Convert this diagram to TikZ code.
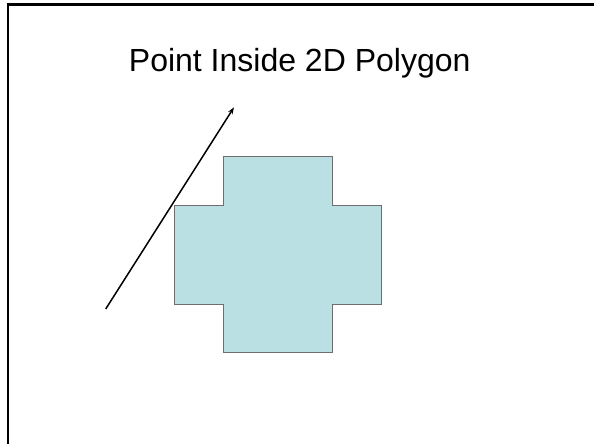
\documentclass[tikz,border=0pt]{standalone}
\usepackage{fontspec}
\setmainfont{Liberation Sans}
\usetikzlibrary{arrows.meta}
\definecolor{polyfill}{RGB}{186,224,227}
\definecolor{polyline}{RGB}{110,110,110}
\tikzset{
  frame/.style={draw=black, line width=2.4pt},
  poly/.style={fill=polyfill, draw=polyline, line width=0.8pt},
  ray/.style={draw=black, line width=1.5pt, -{Stealth[length=7pt,width=5pt]}},
  title/.style={font=\fontsize{32}{38}\selectfont, anchor=base, inner sep=0pt}
}
\begin{document}
\begin{tikzpicture}[x=1pt,y=-1pt]
\useasboundingbox (0,0) rectangle (594,444);
\clip (0,0) rectangle (594,444);
\draw[frame] (8.2,4.7) rectangle (700,600);
\node[title] (t) at (299.7,71.7) {Point Inside 2D Polygon};
\draw[poly] (223.3,156) -- (332.3,156) -- (332.3,205.3) -- (381.7,205.3) -- (381.7,304)
  -- (332.3,304) -- (332.3,352.7) -- (223.3,352.7) -- (223.3,304) -- (174.3,304)
  -- (174.3,205.3) -- (223.3,205.3) -- cycle;
\coordinate (s) at (105.7,309);
\coordinate (e) at (234,107.3);
\draw[ray] (s) -- (e);
\end{tikzpicture}
\end{document}
